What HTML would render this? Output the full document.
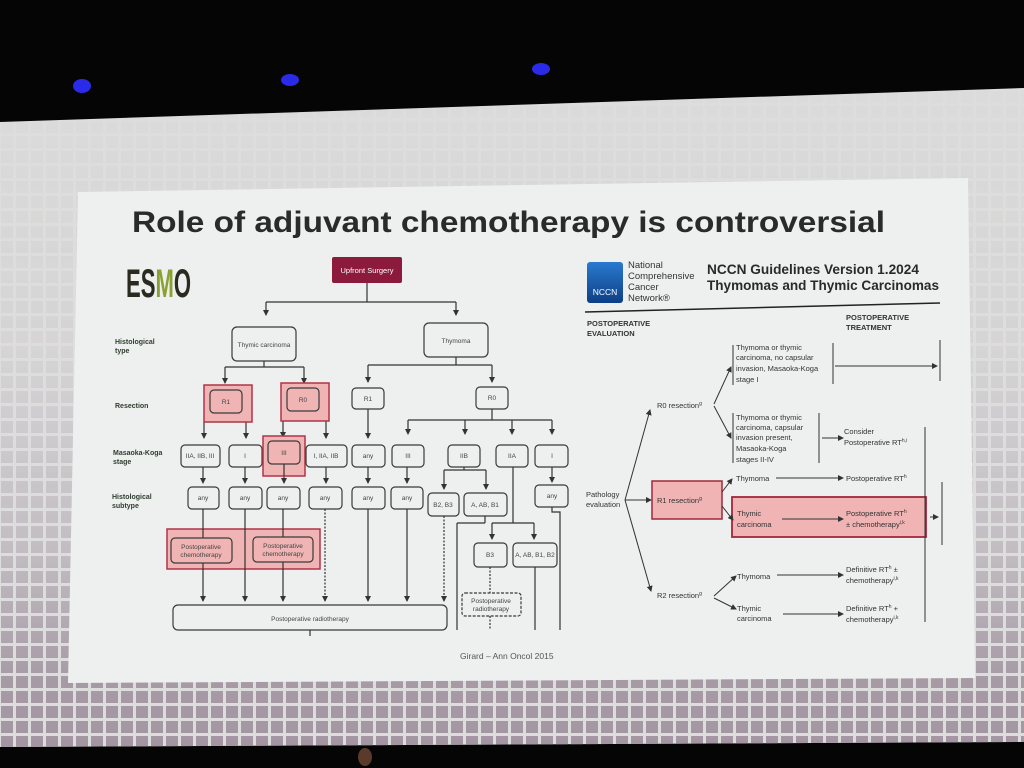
<!DOCTYPE html>
<html><head><meta charset="utf-8"><style>
html,body{margin:0;padding:0;background:#000;}
svg{display:block}
text{font-family:"Liberation Sans",sans-serif;}
.b{fill:none;stroke:#3a3a3a;stroke-width:1.2}
.t{font-size:6.5px;fill:#444;text-anchor:middle}
.l{font-size:7px;fill:#2f3d2f;font-weight:bold}
.ln{stroke:#333;stroke-width:1.2;fill:none}
.ar line{stroke:#333;stroke-width:1.2}
.r{font-size:7.5px;fill:#333;font-weight:bold}
</style></head><body>
<svg width="1024" height="768" viewBox="0 0 1024 768" xmlns="http://www.w3.org/2000/svg">
<defs>
<pattern id="sq" width="15" height="15" patternUnits="userSpaceOnUse">
<rect x="1" y="1" width="12" height="12" fill="#a396a2"/>
</pattern>
<linearGradient id="g" x1="0" y1="0" x2="0" y2="1">
<stop offset="0" stop-color="#fff" stop-opacity="0.02"/>
<stop offset="0.4" stop-color="#fff" stop-opacity="0.12"/>
<stop offset="0.7" stop-color="#fff" stop-opacity="0.45"/>
<stop offset="0.9" stop-color="#fff" stop-opacity="0.95"/>
<stop offset="1" stop-color="#fff" stop-opacity="1"/>
</linearGradient>
<mask id="m"><rect x="0" y="88" width="1024" height="660" fill="url(#g)"/></mask>
<marker id="a" markerWidth="6" markerHeight="6" refX="5" refY="3" orient="auto" markerUnits="userSpaceOnUse"><path d="M0,0 L6,3 L0,6 z" fill="#333"/></marker>
<linearGradient id="nb" x1="0" y1="0" x2="0" y2="1"><stop offset="0" stop-color="#2a7ad0"/><stop offset="1" stop-color="#0d3f86"/></linearGradient>
</defs>
<rect width="1024" height="768" fill="#050505"/>
<ellipse cx="82" cy="86" rx="9" ry="7" fill="#2a2ae8"/>
<ellipse cx="290" cy="80" rx="9" ry="6" fill="#2a2ae8"/>
<ellipse cx="541" cy="69" rx="9" ry="6" fill="#2a2ae8"/>
<polygon points="0,122 1024,88 1024,742 0,747" fill="#dcdddc"/>
<polygon points="0,122 1024,88 1024,742 0,747" fill="url(#sq)" mask="url(#m)"/>
<polygon points="78,192 968,178 975,678 68,683" fill="#edf0ee"/>
<text x="132" y="232" font-size="30" font-weight="bold" fill="#2a2a2a" textLength="753" lengthAdjust="spacingAndGlyphs">Role of adjuvant chemotherapy is controversial</text>

<text x="126" y="297" font-size="40" font-weight="bold" fill="#2a2a20" textLength="65" lengthAdjust="spacingAndGlyphs">ES<tspan fill="#8aa030">M</tspan>O</text>

<text class="l" x="115" y="344">Histological</text><text class="l" x="115" y="353">type</text>
<text class="l" x="115" y="408">Resection</text>
<text class="l" x="113" y="455">Masaoka-Koga</text><text class="l" x="113" y="464">stage</text>
<text class="l" x="112" y="499">Histological</text><text class="l" x="112" y="508">subtype</text>

<rect x="332" y="257" width="70" height="26" rx="2" fill="#8b1a3c"/>
<text x="367" y="273" font-size="7.5" fill="#fff" text-anchor="middle">Upfront Surgery</text>
<path class="ln" d="M367,283V302M266,302H456M264,361V367M225,367H304M456,357V365M368,365H492M226,413V422M303,411V421M492,409V420M408,420H552M464,467V470M444,470H486M513,467V523M492,523H534"/>
<g class="ar" marker-end="url(#a)">
<line x1="266" y1="302" x2="266" y2="315" marker-end="url(#a)"/>
<line x1="456" y1="302" x2="456" y2="315" marker-end="url(#a)"/>
<line x1="225" y1="367" x2="225" y2="383" marker-end="url(#a)"/>
<line x1="304" y1="367" x2="304" y2="383" marker-end="url(#a)"/>
<line x1="368" y1="365" x2="368" y2="382" marker-end="url(#a)"/>
<line x1="492" y1="365" x2="492" y2="382" marker-end="url(#a)"/>
<line x1="204" y1="422" x2="204" y2="438" marker-end="url(#a)"/>
<line x1="246" y1="422" x2="246" y2="438" marker-end="url(#a)"/>
<line x1="283" y1="421" x2="283" y2="437" marker-end="url(#a)"/>
<line x1="326" y1="421" x2="326" y2="438" marker-end="url(#a)"/>
<line x1="368" y1="409" x2="368" y2="438" marker-end="url(#a)"/>
<line x1="408" y1="420" x2="408" y2="434" marker-end="url(#a)"/>
<line x1="465" y1="420" x2="465" y2="434" marker-end="url(#a)"/>
<line x1="512" y1="420" x2="512" y2="434" marker-end="url(#a)"/>
<line x1="552" y1="420" x2="552" y2="434" marker-end="url(#a)"/>
<line x1="203" y1="467" x2="203" y2="483" marker-end="url(#a)"/>
<line x1="245" y1="467" x2="245" y2="483" marker-end="url(#a)"/>
<line x1="284" y1="464" x2="284" y2="483" marker-end="url(#a)"/>
<line x1="326" y1="467" x2="326" y2="483" marker-end="url(#a)"/>
<line x1="368" y1="467" x2="368" y2="483" marker-end="url(#a)"/>
<line x1="407" y1="467" x2="407" y2="483" marker-end="url(#a)"/>
<line x1="552" y1="467" x2="552" y2="482" marker-end="url(#a)"/>
<line x1="444" y1="470" x2="444" y2="489" marker-end="url(#a)"/>
<line x1="486" y1="470" x2="486" y2="489" marker-end="url(#a)"/>
<line x1="492" y1="523" x2="492" y2="539" marker-end="url(#a)"/>
<line x1="534" y1="523" x2="534" y2="539" marker-end="url(#a)"/>
</g>
<rect class="b" x="232" y="327" width="64" height="34" rx="5"/><text class="t" x="264" y="347">Thymic carcinoma</text>
<rect class="b" x="424" y="323" width="64" height="34" rx="5"/><text class="t" x="456" y="343">Thymoma</text>
<rect x="204" y="385" width="48" height="37" fill="#f0b4b4" stroke="#b03448" stroke-width="1.5"/>
<rect class="b" x="210" y="390" width="32" height="23" rx="4"/><text class="t" x="226" y="404">R1</text>
<rect x="281" y="383" width="48" height="38" fill="#f0b4b4" stroke="#b03448" stroke-width="1.5"/>
<rect class="b" x="287" y="388" width="32" height="23" rx="4"/><text class="t" x="303" y="402">R0</text>
<rect class="b" x="352" y="388" width="32" height="21" rx="4"/><text class="t" x="368" y="401">R1</text>
<rect class="b" x="476" y="387" width="32" height="22" rx="4"/><text class="t" x="492" y="400">R0</text>

<rect class="b" x="181" y="445" width="39" height="22" rx="4"/><text class="t" x="200" y="458">IIA, IIB, III</text>
<rect class="b" x="229" y="445" width="33" height="22" rx="4"/><text class="t" x="245" y="458">I</text>
<rect x="263" y="436" width="42" height="40" fill="#f0b4b4" stroke="#b03448" stroke-width="1.5"/>
<rect class="b" x="268" y="441" width="32" height="23" rx="4"/><text class="t" x="284" y="455">III</text>
<line x1="284" y1="464" x2="284" y2="476" stroke="#333" stroke-width="1.2"/>
<rect class="b" x="306" y="445" width="41" height="22" rx="4"/><text class="t" x="326" y="458">I, IIA, IIB</text>
<rect class="b" x="352" y="445" width="33" height="22" rx="4"/><text class="t" x="368" y="458">any</text>
<rect class="b" x="392" y="445" width="32" height="22" rx="4"/><text class="t" x="408" y="458">III</text>
<rect class="b" x="448" y="445" width="32" height="22" rx="4"/><text class="t" x="464" y="458">IIB</text>
<rect class="b" x="496" y="445" width="32" height="22" rx="4"/><text class="t" x="512" y="458">IIA</text>
<rect class="b" x="535" y="445" width="33" height="22" rx="4"/><text class="t" x="552" y="458">I</text>

<rect class="b" x="188" y="487" width="31" height="22" rx="4"/><text class="t" x="203" y="500">any</text>
<rect class="b" x="229" y="487" width="33" height="22" rx="4"/><text class="t" x="245" y="500">any</text>
<rect class="b" x="267" y="487" width="33" height="22" rx="4"/><text class="t" x="283" y="500">any</text>
<rect class="b" x="309" y="487" width="33" height="22" rx="4"/><text class="t" x="325" y="500">any</text>
<rect class="b" x="352" y="487" width="33" height="22" rx="4"/><text class="t" x="368" y="500">any</text>
<rect class="b" x="391" y="487" width="32" height="22" rx="4"/><text class="t" x="407" y="500">any</text>
<rect class="b" x="428" y="493" width="31" height="23" rx="4"/><text class="t" x="443" y="507">B2, B3</text>
<rect class="b" x="464" y="493" width="43" height="23" rx="4"/><text class="t" x="485" y="507">A, AB, B1</text>
<rect class="b" x="535" y="485" width="33" height="22" rx="4"/><text class="t" x="552" y="498">any</text>
<rect class="b" x="474" y="543" width="33" height="24" rx="4"/><text class="t" x="490" y="557">B3</text>
<rect class="b" x="513" y="543" width="44" height="24" rx="4"/><text class="t" x="535" y="557">A, AB, B1, B2</text>

<rect x="167" y="529" width="153" height="40" fill="#f0b4b4" stroke="#b03448" stroke-width="1.5"/>
<g class="ar">
<line x1="203" y1="509" x2="203" y2="601" marker-end="url(#a)"/>
<line x1="245" y1="509" x2="245" y2="601" marker-end="url(#a)"/>
<line x1="283" y1="509" x2="283" y2="601" marker-end="url(#a)"/>
<line x1="368" y1="509" x2="368" y2="601" marker-end="url(#a)"/>
<line x1="407" y1="509" x2="407" y2="601" marker-end="url(#a)"/>
<line x1="325" y1="509" x2="325" y2="601" stroke-dasharray="2,1.5" marker-end="url(#a)"/>
<line x1="444" y1="516" x2="444" y2="601" stroke-dasharray="2,1.5" marker-end="url(#a)"/>
</g>
<rect x="171" y="538" width="61" height="25" rx="4" fill="#f0b4b4" stroke="#3a3a3a" stroke-width="1.2"/>
<text class="t" x="201" y="549">Postoperative</text><text class="t" x="201" y="557">chemotherapy</text>
<rect x="253" y="537" width="60" height="25" rx="4" fill="#f0b4b4" stroke="#3a3a3a" stroke-width="1.2"/>
<text class="t" x="283" y="548">Postoperative</text><text class="t" x="283" y="556">chemotherapy</text>

<rect class="b" x="173" y="605" width="274" height="25" rx="5"/>
<text class="t" x="310" y="621">Postoperative radiotherapy</text>
<path class="ln" d="M310,630V636M485,516V523M457,523H485M457,523V630M535,567V630M552,507V512H560V630"/>
<path class="ln" d="M490,567V593M490,616V630" stroke-dasharray="2,1.5"/>
<rect class="b" x="462" y="593" width="59" height="23" rx="3" stroke-dasharray="3,1.5"/>
<text class="t" x="491" y="603">Postoperative</text><text class="t" x="491" y="611">radiotherapy</text>
<text x="460" y="659" font-size="8.5" fill="#555">Girard – Ann Oncol 2015</text>

<rect x="587" y="262" width="36" height="41" rx="3" fill="url(#nb)"/>
<text x="605" y="295" font-size="8.5" fill="#fff" text-anchor="middle" font-family="Liberation Serif,serif">NCCN</text>
<g font-size="9.5" fill="#333"><text x="628" y="268">National</text><text x="628" y="279">Comprehensive</text><text x="628" y="290">Cancer</text><text x="628" y="301">Network®</text></g>
<text x="707" y="274" font-size="13.5" font-weight="bold" fill="#2a2a2a" textLength="212" lengthAdjust="spacingAndGlyphs">NCCN Guidelines Version 1.2024</text>
<text x="707" y="290" font-size="13.5" font-weight="bold" fill="#2a2a2a" textLength="232" lengthAdjust="spacingAndGlyphs">Thymomas and Thymic Carcinomas</text>
<line x1="585" y1="312" x2="940" y2="303" stroke="#222" stroke-width="1.5"/>
<text class="r" x="587" y="326">POSTOPERATIVE</text><text class="r" x="587" y="336">EVALUATION</text>
<text class="r" x="846" y="320">POSTOPERATIVE</text><text class="r" x="846" y="330">TREATMENT</text>

<g font-size="7.5" fill="#333">
<text x="586" y="497">Pathology</text><text x="586" y="507">evaluation</text>
<text x="657" y="408">R0 resection<tspan font-size="5" dy="-3">g</tspan></text>
<rect x="652" y="481" width="70" height="38" fill="#f0b4b4" stroke="#a0283c" stroke-width="1.5"/>
<text x="657" y="503">R1 resection<tspan font-size="5" dy="-3">g</tspan></text>
<text x="657" y="598">R2 resection<tspan font-size="5" dy="-3">g</tspan></text>
<text x="736" y="350">Thymoma or thymic</text><text x="736" y="360">carcinoma, no capsular</text><text x="736" y="371">invasion, Masaoka-Koga</text><text x="736" y="382">stage I</text>
<text x="736" y="420">Thymoma or thymic</text><text x="736" y="430">carcinoma, capsular</text><text x="736" y="440">invasion present,</text><text x="736" y="451">Masaoka-Koga</text><text x="736" y="462">stages II-IV</text>
<text x="844" y="434">Consider</text><text x="844" y="445">Postoperative RT<tspan font-size="5" dy="-3">h,i</tspan></text>
<text x="736" y="481">Thymoma</text>
<text x="846" y="481">Postoperative RT<tspan font-size="5" dy="-3">h</tspan></text>
<rect x="732" y="497" width="194" height="40" fill="#f0b4b4" stroke="#a0283c" stroke-width="1.8"/>
<text x="737" y="516">Thymic</text><text x="737" y="527">carcinoma</text>
<text x="846" y="516">Postoperative RT<tspan font-size="5" dy="-3">h</tspan></text><text x="846" y="527">± chemotherapy<tspan font-size="5" dy="-3">i,k</tspan></text>
<text x="737" y="579">Thymoma</text>
<text x="846" y="572">Definitive RT<tspan font-size="5" dy="-3">h</tspan><tspan dy="3"> ±</tspan></text><text x="846" y="583">chemotherapy<tspan font-size="5" dy="-3">i,k</tspan></text>
<text x="737" y="611">Thymic</text><text x="737" y="621">carcinoma</text>
<text x="846" y="611">Definitive RT<tspan font-size="5" dy="-3">h</tspan><tspan dy="3"> +</tspan></text><text x="846" y="622">chemotherapy<tspan font-size="5" dy="-3">i,k</tspan></text>
</g>
<path d="M733,345V385M833,343V384M940,340V381M733,413V463M819,413V463M925,427V622M942,482V545" stroke="#333" stroke-width="1" fill="none"/>
<g stroke="#333" stroke-width="1">
<line x1="625" y1="500" x2="650" y2="410" marker-end="url(#a)"/>
<line x1="625" y1="500" x2="651" y2="500" marker-end="url(#a)"/>
<line x1="625" y1="500" x2="651" y2="591" marker-end="url(#a)"/>
<line x1="714" y1="404" x2="731" y2="367" marker-end="url(#a)"/>
<line x1="714" y1="406" x2="731" y2="438" marker-end="url(#a)"/>
<line x1="722" y1="492" x2="732" y2="479" marker-end="url(#a)"/>
<line x1="722" y1="506" x2="733" y2="520" marker-end="url(#a)"/>
<line x1="714" y1="596" x2="736" y2="576" marker-end="url(#a)"/>
<line x1="714" y1="598" x2="736" y2="609" marker-end="url(#a)"/>
<line x1="835" y1="366" x2="937" y2="366" marker-end="url(#a)"/>
<line x1="822" y1="438" x2="843" y2="438" marker-end="url(#a)"/>
<line x1="776" y1="478" x2="843" y2="478" marker-end="url(#a)"/>
<line x1="782" y1="519" x2="843" y2="519" marker-end="url(#a)"/>
<line x1="777" y1="575" x2="843" y2="575" marker-end="url(#a)"/>
<line x1="783" y1="614" x2="843" y2="614" marker-end="url(#a)"/>
<line x1="930" y1="517" x2="938" y2="517" marker-end="url(#a)"/>
</g>
<ellipse cx="365" cy="757" rx="7" ry="9" fill="#5a3a2a"/>
</svg>
</body></html>
